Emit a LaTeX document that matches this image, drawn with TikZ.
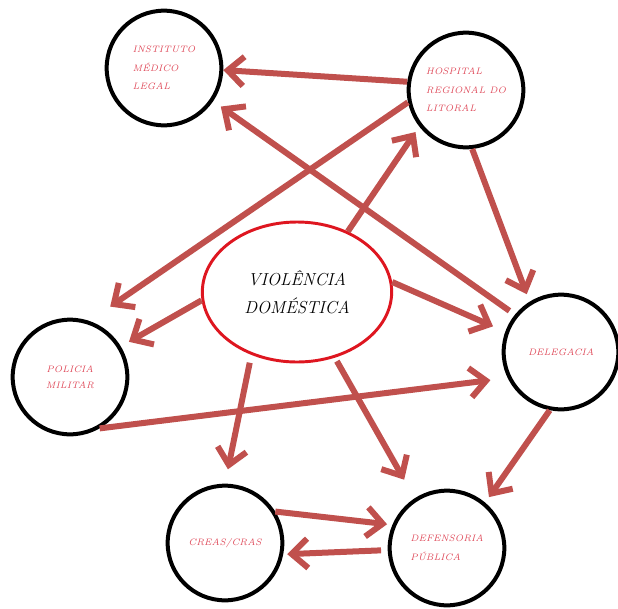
\documentclass[tikz,border=0pt]{standalone}
\usetikzlibrary{arrows.meta, shapes.geometric}
\definecolor{arrowred}{RGB}{192,80,77}
\definecolor{labelred}{RGB}{222,70,86}
\definecolor{ringred}{RGB}{222,22,32}

\begin{document}
\begin{tikzpicture}[x=0.75pt, y=-0.75pt, main/.style={draw, circle, minimum size=86pt, line width=3pt, inner sep=0pt, text=labelred, font=\fontsize{7}{14}\selectfont\itshape}, core/.style={draw=ringred, ellipse, minimum width=142pt, minimum height=105pt, line width=2.2pt, inner sep=0pt, font=\fontsize{13}{21}\selectfont\itshape}, n/.style={-{Straight Barb[length=12pt, width=22pt]}, draw=arrowred, line width=4.5pt}]
        \useasboundingbox (0,0) rectangle (618,608);
        % nodes
        \node[main, align=left] (iml) at (164,68) {INSTITUTO\\MÉDICO\\LEGAL};
        \node[main, align=left] (hosp) at (466,90) {HOSPITAL\\REGIONAL DO\\LITORAL};
        \node[core, align=center] (viol) at (297,292) {VIOLÊNCIA\\DOMÉSTICA};
        \node[main, align=center, font=\fontsize{7}{12}\selectfont\itshape] (pm) at (70,377) {POLICIA\\MILITAR};
        \node[main] (del) at (561,352) {DELEGACIA};
        \node[main] (creas) at (225,543) {CREAS/CRAS};
        \node[main, align=left] (def) at (447,548) {DEFENSORIA\\PÚBLICA};
        % edges
        \draw [n] (hosp.172) -- (iml.358);
        \draw [n, shorten >=19pt] (hosp.192) -- (pm.71);
        \draw [n, shorten <=5pt, shorten >=7pt] (del.141) -- (iml.326);
        \draw [n, shorten >=5pt] (viol.50) -- (hosp.218);
        \draw [n, shorten >=6pt] (hosp.276) -- (del.122);
        \draw [n, shorten >=7pt] (viol.185) -- (pm.31);
        \draw [n, shorten >=10pt] (viol.6) -- (del.160);
        \draw [n, shorten >=13pt] (pm.300) -- (del.206);
        \draw [n, shorten <=6pt, shorten >=11pt] (viol.234) -- (creas.90);
        \draw [n, shorten <=3pt, shorten >=16pt] (viol.300) -- (def.123);
        \draw [n, shorten >=5pt] (del.259) -- (def.50);
        \draw [n, shorten >=4pt] (creas.32) -- (def.157);
        \draw [n, shorten <=5pt, shorten >=3pt] (def.182) -- (creas.349);
    \end{tikzpicture}
\end{document}
